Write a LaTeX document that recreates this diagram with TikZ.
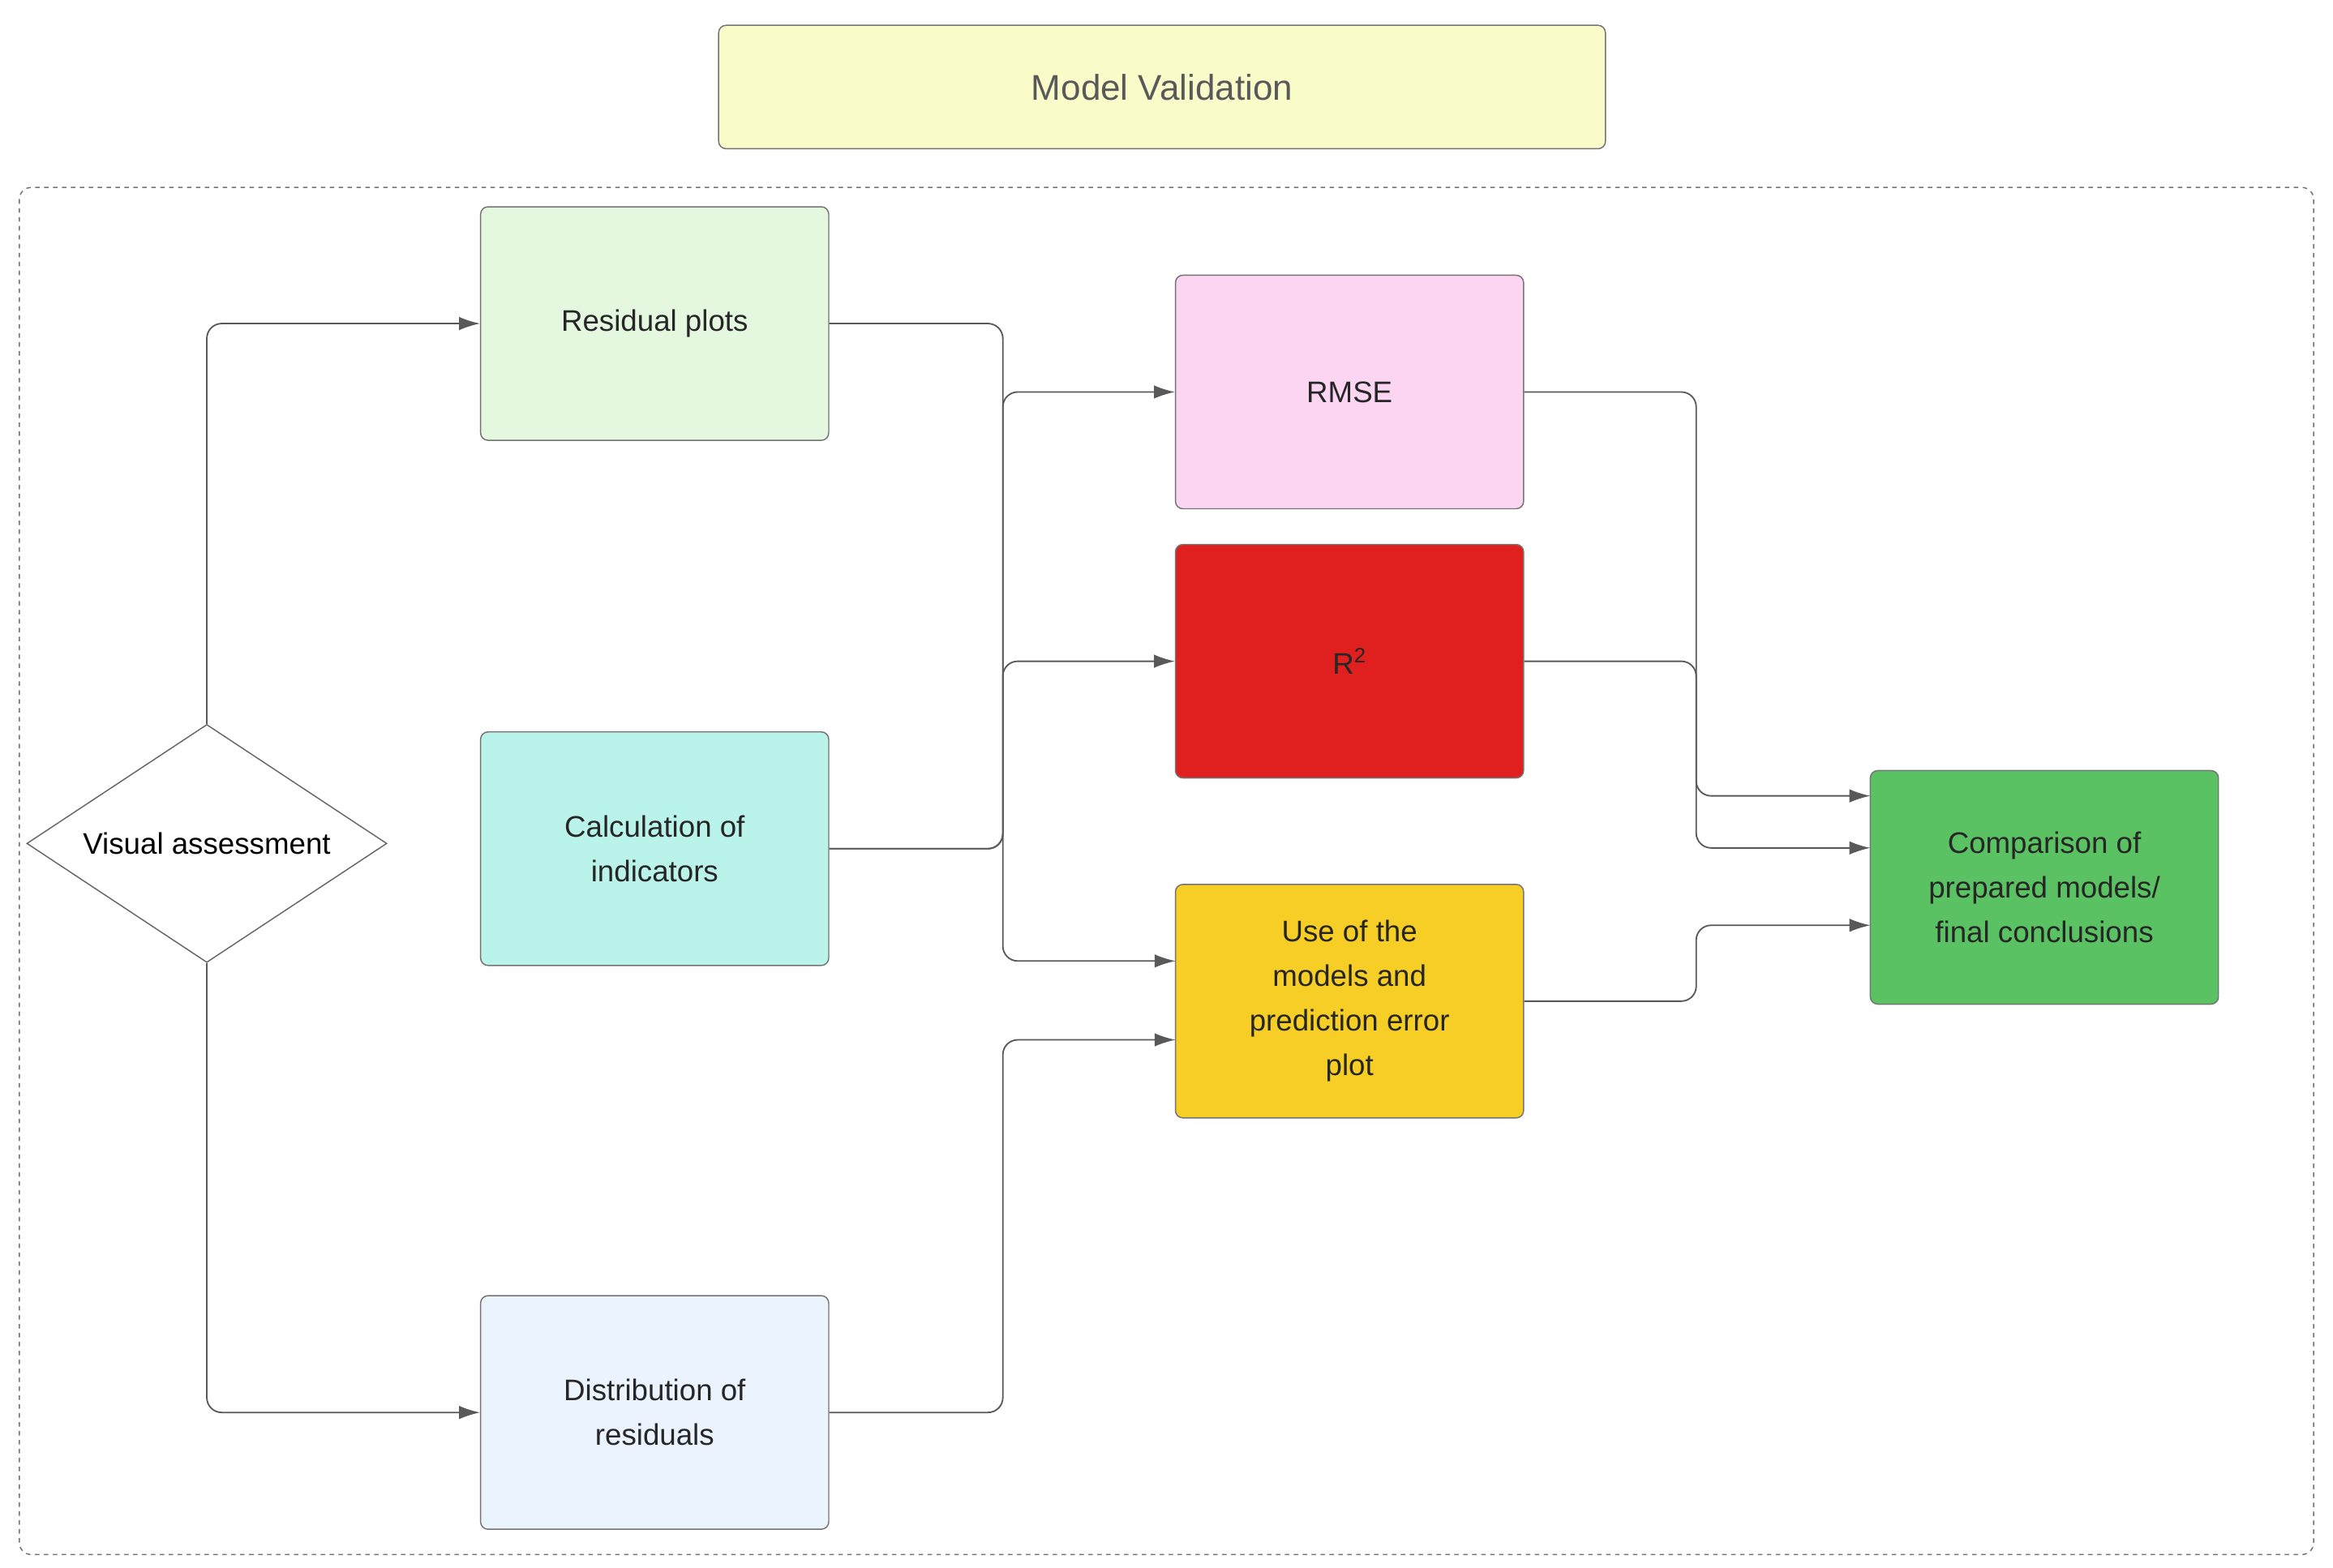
\documentclass[tikz,border=0pt]{standalone}
\usepackage{fontspec}
\setmainfont{Liberation Sans}
\usetikzlibrary{shapes.geometric,arrows.meta}
\begin{document}
\begin{tikzpicture}[x=1pt,y=-1pt,
  box/.style={draw=black!55,rounded corners=5pt,minimum width=234pt,minimum height=157pt,align=center,font=\fontsize{20}{30}\selectfont,text=black!85,line width=0.8pt},
  conn/.style={draw=black!65,line width=1pt,rounded corners=10pt,-{Latex[length=14pt,width=9pt]}}]
\useasboundingbox (0,0) rectangle (1568,1054);
\node[box,minimum width=596pt,minimum height=83pt,fill={rgb,255:red,249;green,251;blue,200},text=black!65,font=\fontsize{24}{30}\selectfont] (title) at (781,58.5) {Model Validation};
\draw[black!55,dashed,rounded corners=8pt,line width=0.8pt] (13,126) rectangle (1555,1045);
\node[draw=black!60,diamond,aspect=1.5,minimum width=242pt,minimum height=160pt,inner sep=0pt,font=\fontsize{20}{24}\selectfont,line width=0.8pt] (va) at (139,567) {Visual assessment};
\node[box,fill={rgb,255:red,227;green,248;blue,223}] (rp) at (440,217.5) {Residual plots};
\node[box,fill={rgb,255:red,185;green,243;blue,234}] (ci) at (440,570.5) {Calculation of\\indicators};
\node[box,fill={rgb,255:red,235;green,243;blue,254}] (dr) at (440,949.5) {Distribution of\\residuals};
\node[box,fill={rgb,255:red,252;green,213;blue,242}] (rm) at (907,263.5) {RMSE};
\node[box,fill={rgb,255:red,224;green,31;blue,31}] (r2) at (907,444.5) {R$^{\mathrm{2}}$};
\node[box,fill={rgb,255:red,246;green,206;blue,37}] (use) at (907,673) {Use of the\\models and\\prediction error\\plot};
\node[box,fill={rgb,255:red,90;green,194;blue,98}] (cmp) at (1374,596.5) {Comparison of\\prepared models/\\final conclusions};
\draw[conn] (va.north) |- (rp.west);
\draw[conn] (va.south) |- (dr.west);
\draw[conn] (rp.east) -| (674,400) |- (790,646);
\draw[conn] (ci.east) -| (674,400) |- (rm.west);
\draw[conn] (ci.east) -| (674,500) |- (r2.west);
\draw[conn] (dr.east) -| (674,800) |- (790,699);
\draw[conn] (rm.east) -| (1140,400) |- (1257,535);
\draw[conn] (r2.east) -| (1140,500) |- (1257,570);
\draw[conn] (use.east) -| (1140,650) |- (1257,622);
\end{tikzpicture}
\end{document}
